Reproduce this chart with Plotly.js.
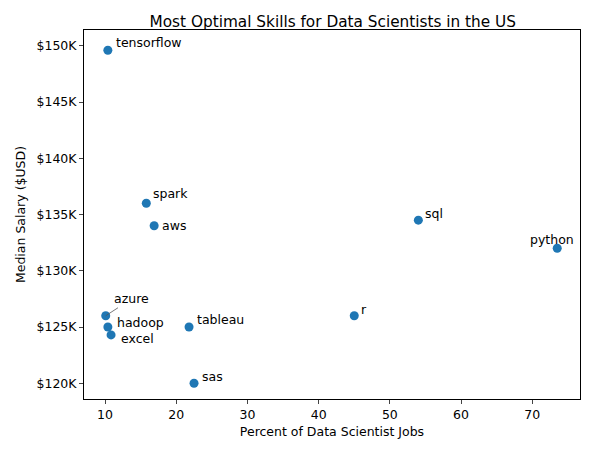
<html><head><script src="https://cdn.plot.ly/plotly-3.0.1.min.js"></script></head><body style="margin:0">
<div id="c" style="width:589px;height:453px"></div>
<script>
const skills=["tensorflow","spark","aws","sql","python","azure","hadoop","excel","tableau","r","sas"];
const pct=[10.4,15.8,16.9,54.0,73.5,10.1,10.4,10.85,21.8,45.0,22.5];
const salary=[149.6,136.0,134.0,134.5,132.0,126.0,125.0,124.3,125.0,126.0,120.0];
const xs=[6,5,6,5,-29,0,7,8,6,5,6], ys=[8,10,0,7,9,0,5,-4,8,6,7];
const yTicks=[120,125,130,135,140,145,150];
const yTickText=yTicks.map(v=>"$"+v+"K");
const f={family:"DejaVu Sans",size:12.5,color:"#000"};
const ann=skills.map((s,i)=>s==="azure"?
 {x:pct[i],y:salary[i],text:s,showarrow:true,arrowhead:0,arrowwidth:0.8,arrowcolor:"#555",ax:26,ay:-17,font:f}:
 {x:pct[i],y:salary[i],text:s,showarrow:false,xanchor:"left",xshift:xs[i],yshift:ys[i],font:f});
Plotly.newPlot("c",[{x:pct,y:salary,mode:"markers",type:"scatter",marker:{color:"#1f77b4",size:9}}],{
 width:589,height:453,paper_bgcolor:"#fff",plot_bgcolor:"#fff",showlegend:false,
 margin:{l:84,r:9,t:30,b:54},
 title:{text:"Most Optimal Skills for Data Scientists in the US",font:{family:"DejaVu Sans",size:15.3,color:"#000"},x:0.565,xanchor:"center",y:0.965},
 xaxis:{range:[7.05,76.7],tickvals:[10,20,30,40,50,60,70],showgrid:false,zeroline:false,showline:true,mirror:true,linecolor:"#000",ticks:"outside",ticklen:4,tickfont:f,
  title:{text:"Percent of Data Scientist Jobs",font:f,standoff:6}},
 yaxis:{range:[118.6,151.4],tickvals:yTicks,ticktext:yTickText,showgrid:false,zeroline:false,showline:true,mirror:true,linecolor:"#000",ticks:"outside",ticklen:4,tickfont:f,
  title:{text:"Median Salary ($USD)",font:f,standoff:8}},
 annotations:ann},{displayModeBar:false});
</script></body></html>
